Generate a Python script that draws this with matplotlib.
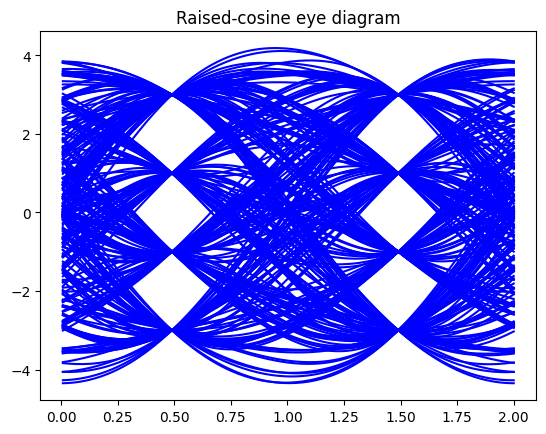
import numpy as np
import matplotlib
matplotlib.use('Agg')
import matplotlib.pyplot as plt

# 4-PAM symbol stream; each trace shows two consecutive symbols
SYMBOLS = [
    1, -3, 3, -1, -1, 3, -3, 1, 3, -1, -3, -3, 1, 3, -1, 1, -3, 3, 1, -1,
    -3, 1, 3, 3, -1, -3, 1, -1, 3, -3, -1, 1, -3, -1, 3, 1, -1, 3, -3, 1,
    3, -1, -3, -3, 3, 1, -1, 1, -3, 3, -1, -3, 1, 3, -1, -1, 3, -3, 1, -3,
    -1, 3, 1, -3, 3, -1, 1, 1, -3, -1, 3, -3, 3, 1, 3, -3, -3, 3, 1, -1,
    1, -3, -1, 3, 3, 1, -3, -1, 1, 3, -3, 1, -1, -3, 3, -1, 1, -3, 3, 1,
    -1, 1, -3, 3, -1, -3, 3, 1, 1, -1, -3, 3, -1, 1, 3, -3, -1, -3, 1, 3,
    -3, -1, 1, -3, 3, 1, -1, 3, -3, -3, 3, -1, 3, 1, -3, 1, -1, 3, -1, -3,
    3, 3, -1, 3, -3, -1, 3, -1, 1, -3, 3, -3, 1, -1, -1, 3, 1, -3, 3, -1,
    1, -1, -3, 3, 1, -3, -1, -1, 3, 1, -3, 3, -1, -3, 1, 3, -3, 1, -1, 3,
    -1, -3, 3, -3, 1, 1, -1, 3, -3, -1, 1, 3, -3, -1, 3, 1, -1, -3, -3, 1,
    3, 1, -3, -1, 1, 3, -1, -3, 3, -1, 1, -1, -3, 3, 3, 1, 1, -3, 1, -1,
    -3, 3, 1, -1, -3, 1, 3, -3, -1, 1, -1, 3, -3, 1, 3, -1, -3, -1, 3, 1,
    -1, -3, 1, 3, -1, 1, -3, -3, 3, 1, -1, 3, -1, -3, 1, -1, 3, -3, 1, 3,
    -3, 1, -1, 3, 1, -3, -1, 3, -3, 1, 1, -1, -3, 3, -1, 3, 1, -3, -1, 1,
    3, -3, -1, 1, 3, -1, -3, 1, -1, 3, -3, 3, 1, -1, -3, -1, 1, 3, -3, -1,
    3, 3, 1, -1, -3, -3, 1, 3, 3, -1, 1, -3, -3, -1, 3, 1, 1, 3, -3, -3,
    3, -3, 3, 3, -1, 3, 1, 1, -3, -3, 3, -1, -1, 3, 3, 1, -3, -1, 3, 1,
    -3, 3, 3, 1, -1, -3, -1, -3, 3, 1, 3, 3, -1, -3, -3, 1, -1, 3, -3, 1,
    3, -3, -3, 3, -1, 1, 3, 3, 1, -3, -1, -1, 3, -3, -3, -1, 1, 3, 3, -1,
    -3, 1, -1, 3, 3, 1, 1, -3, -3, 3, 1, -1, 3, 1, -1, -3, 3, 3, 1, -3,
    1, 3, 3, -1, -3, 1, -1, -3, -3, 1, 3, -1, 3, 3, 1, -1, -3, 3, -1, 1,
    -1, -3, -3, 1, 3, 3, -1, 1, -3, 3, -1, -3, 1, -1, 3, 3, 1, -3, -3, -1,
    3, 1, -3, 3, 3, 1, -1, -3, -1, 1, 3, -3, -3, 1, -1, 3, 3, -1, 1, -3,
    -1, 3, 3, 1, -3, -1, 1, -3, 3, -1, -3, -3, 3, 1, -1, 3, 3, 1, -1, -3,
    1, -3, -3, -1, 3, 3, 1, -1, 1, -3, 3, 1, -1, -3, -1, 3, 3, -1, 1, 3,
    -3, -1, 1, 3, 3, -1, -3, 1, -3, -3, 3, -1, 1, 3, 3, 1, -1, -3, 1, -1,
    3, 3, -1, -3, 1, -1, -3, -3, 1, 3, -1, 1, 3, 3, -1, -3, -3, 1, -1, 3,
    1, -1, 3, 3, 1, -3, -3, -1, 3, 1, -1, 1, 3, 3, -1, 1, -3, -1, 3, -3,
    -1, 1, 3, 3, -3, 1, -1, -3, -3, 3, 1, 3, 3, -1, 1, -3, -1, -3, 3, 1,
    3, -1, -3, -3, 1, 3, 3, 1, -1, -3, 1, -1, 3, -3, -1, 3, 3, 1, -1, -3,
]
BETA = 0.5          # roll-off factor
T0 = 0.49           # first sampling instant inside the window
X_START, X_END = 0.008, 2.0
N_SAMPLES = 200


def raised_cosine(t, beta):
    den = 1 - (2 * beta * t) ** 2
    ok = np.abs(den) > 1e-8
    return np.where(ok, np.sinc(t) * np.cos(np.pi * beta * t) / np.where(ok, den, 1),
                    np.pi / 4 * np.sinc(1 / (2 * beta)))


sym = np.array(SYMBOLS, dtype=float)
k = np.arange(len(sym))
x = np.linspace(X_START, X_END, N_SAMPLES)

fig, ax = plt.subplots(figsize=(5.46, 4.35), dpi=100)
fig.subplots_adjust(left=40.3 / 546, right=536.3 / 546,
                    top=1 - 32.3 / 435, bottom=1 - 401 / 435)

for j in range(len(sym) // 2):
    y = (sym[:, None] * raised_cosine(x[None, :] - T0 - (k[:, None] - 2 * j), BETA)).sum(axis=0)
    ax.plot(x, y, color='b')

ax.set_title("Raised-cosine eye diagram")
fig.savefig("out.png", dpi=100)
